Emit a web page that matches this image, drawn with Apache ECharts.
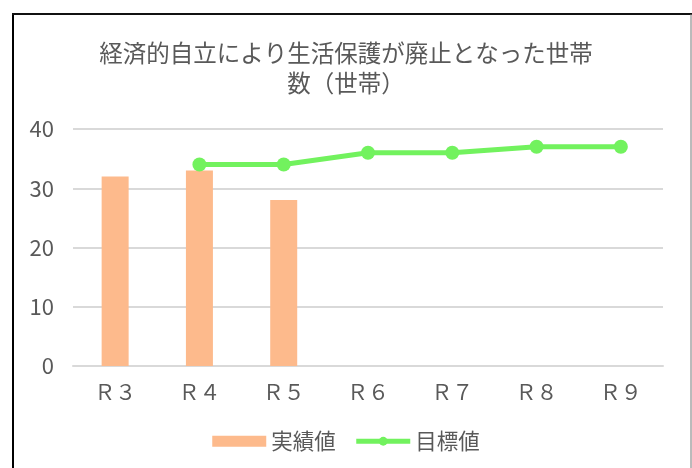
<!DOCTYPE html>
<html>
<head>
<meta charset="utf-8">
<script src="https://cdn.jsdelivr.net/npm/echarts@6/dist/echarts.min.js"></script>
<style>
html, body { margin: 0; padding: 0; background: #fff; }
#container { width: 692px; height: 468px; }
</style>
</head>
<body>
<div id="container"></div>
<script>
var years = ['Ｒ３', 'Ｒ４', 'Ｒ５', 'Ｒ６', 'Ｒ７', 'Ｒ８', 'Ｒ９'];
var actual = [32, 33, 28, null, null, null, null];
var target = [null, 34, 34, 36, 36, 37, 37];

var dom = document.getElementById('container');
var myChart = echarts.init(dom);
var font = '"Noto Sans CJK JP", "Noto Sans", sans-serif';

myChart.setOption({
    animation: false,
    textStyle: { fontFamily: font },
    title: {
        text: '経済的自立により生活保護が廃止となった世帯\n数（世帯）',
        left: 'center',
        top: 33,
        textStyle: { color: '#595959', fontSize: 23.5, fontWeight: 'normal', lineHeight: 30, fontFamily: font }
    },
    graphic: [
        { type: 'line', shape: { x1: 13, y1: 14, x2: 13, y2: 470 }, style: { stroke: '#000', lineWidth: 2 } },
        { type: 'line', shape: { x1: 12, y1: 14, x2: 692, y2: 14 }, style: { stroke: '#111', lineWidth: 2 } },
        { type: 'line', shape: { x1: 691, y1: 14, x2: 691, y2: 470 }, style: { stroke: '#777', lineWidth: 1 } }
    ],
    legend: {
        bottom: 11,
        left: 'center',
        itemWidth: 54,
        itemHeight: 11,
        itemGap: 18,
        textStyle: { color: '#595959', fontSize: 21.5, fontFamily: font },
        data: [
            { name: '実績値', icon: 'rect' },
            { name: '目標値', lineStyle: { width: 5 } }
        ]
    },
    grid: { left: 73, right: 29, top: 129, bottom: 102 },
    xAxis: {
        type: 'category',
        data: years,
        axisLine: { lineStyle: { color: '#d9d9d9', width: 2 } },
        axisTick: { show: false },
        axisLabel: { color: '#595959', fontSize: 21, margin: 16, fontFamily: font }
    },
    yAxis: {
        type: 'value',
        min: 0,
        max: 40,
        interval: 10,
        axisLine: { show: false },
        axisTick: { show: false },
        splitLine: { lineStyle: { color: '#d9d9d9', width: 2 } },
        axisLabel: { color: '#595959', fontSize: 22, margin: 19, fontFamily: font }
    },
    series: [
        {
            name: '実績値',
            type: 'bar',
            data: actual,
            barWidth: 27,
            itemStyle: { color: '#fdba8c' }
        },
        {
            name: '目標値',
            type: 'line',
            data: target,
            symbol: 'circle',
            symbolSize: 14,
            lineStyle: { color: '#72f25e', width: 5 },
            itemStyle: { color: '#72f25e' }
        }
    ]
});
</script>
</body>
</html>
